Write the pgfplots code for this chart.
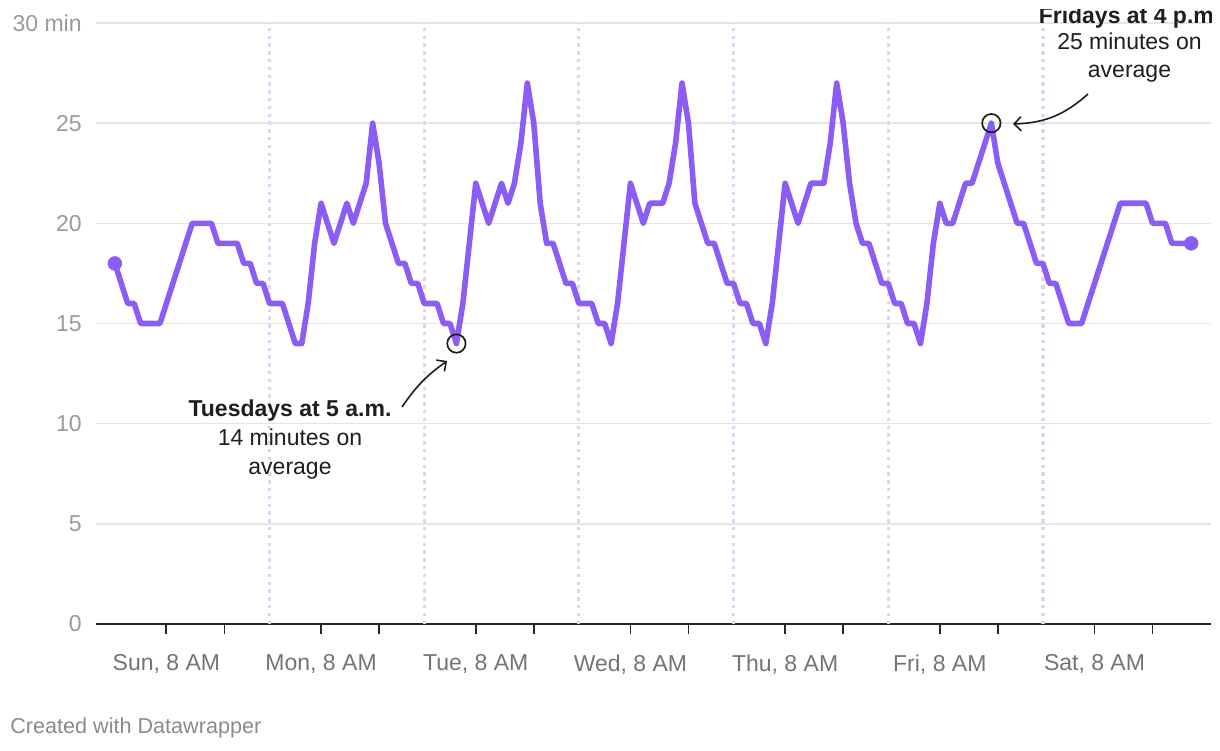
\documentclass[border=0pt]{standalone}
\usepackage{fontspec}
\setmainfont{Liberation Sans}
\usepackage{pgfplots}
\pgfplotsset{compat=1.18}
\usetikzlibrary{arrows.meta}

\definecolor{linec}{HTML}{8B5CF6}
\definecolor{gridc}{HTML}{E4E4E4}
\definecolor{dotc}{HTML}{E2D4EE}
\definecolor{ylab}{HTML}{9A9A9A}
\definecolor{xlab}{HTML}{747474}
\definecolor{txt}{HTML}{1E1E1E}
\definecolor{credit}{HTML}{8A8A8A}

\newcommand{\lbl}{\fontsize{11.5}{14.5}\selectfont}

\begin{document}
\begin{tikzpicture}
% page is 610pt x 375pt (reference pixels halved)
\path[use as bounding box] (0,0) rectangle (610pt,375pt);
\clip (0,0) rectangle (610pt,375pt);

\begin{axis}[
  at={(47.75pt,63pt)}, anchor=south west,
  scale only axis, width=557.5pt, height=300.5pt,
  xmin=-3, xmax=170, ymin=0, ymax=30,
  clip=false,
  axis x line*=bottom, axis y line*=left,
  y axis line style={draw=none},
  x axis line style={black!85, line width=0.9pt},
  ytick={0,5,10,15,20,25,30},
  yticklabels={0,5,10,15,20,25,30 min},
  ytick style={draw=none},
  yticklabel style={font=\lbl, color=ylab, anchor=east, inner sep=0pt, xshift=-1.75pt},
  ymajorgrids,
  major grid style={gridc, line width=0.8pt},
  xtick={8,17,32,41,56,65,80,89,104,113,128,137,152,161},
  xticklabels={{Sun, 8 AM},{},{Mon, 8 AM},{},{Tue, 8 AM},{},{Wed, 8 AM},{},{Thu, 8 AM},{},{Fri, 8 AM},{},{Sat, 8 AM},{}},
  tick align=outside,
  x tick style={black!85, line width=0.9pt},
  major tick length=5pt,
  xticklabel style={font=\lbl, color=xlab, anchor=north, inner sep=0pt, yshift=-10pt},
  extra x ticks={24,48,72,96,120,144},
  extra x tick labels={},
  extra x tick style={grid=major, major tick length=0pt,
    major grid style={dotc, line width=1.6pt, dash pattern=on 1.7pt off 2.2pt}},
]
% average travel time, one value per hour, Sunday 0:00 to Saturday 23:00
\addplot[linec, line width=2.8pt, line join=round, line cap=round] coordinates {
(0,18)(1,17)(2,16)(3,16)(4,15)(5,15)(6,15)(7,15)(8,16)(9,17)(10,18)(11,19)(12,20)(13,20)(14,20)(15,20)(16,19)(17,19)(18,19)(19,19)(20,18)(21,18)(22,17)(23,17)
(24,16)(25,16)(26,16)(27,15)(28,14)(29,14)(30,16)(31,19)(32,21)(33,20)(34,19)(35,20)(36,21)(37,20)(38,21)(39,22)(40,25)(41,23)(42,20)(43,19)(44,18)(45,18)(46,17)(47,17)
(48,16)(49,16)(50,16)(51,15)(52,15)(53,14)(54,16)(55,19)(56,22)(57,21)(58,20)(59,21)(60,22)(61,21)(62,22)(63,24)(64,27)(65,25)(66,21)(67,19)(68,19)(69,18)(70,17)(71,17)
(72,16)(73,16)(74,16)(75,15)(76,15)(77,14)(78,16)(79,19)(80,22)(81,21)(82,20)(83,21)(84,21)(85,21)(86,22)(87,24)(88,27)(89,25)(90,21)(91,20)(92,19)(93,19)(94,18)(95,17)
(96,17)(97,16)(98,16)(99,15)(100,15)(101,14)(102,16)(103,19)(104,22)(105,21)(106,20)(107,21)(108,22)(109,22)(110,22)(111,24)(112,27)(113,25)(114,22)(115,20)(116,19)(117,19)(118,18)(119,17)
(120,17)(121,16)(122,16)(123,15)(124,15)(125,14)(126,16)(127,19)(128,21)(129,20)(130,20)(131,21)(132,22)(133,22)(134,23)(135,24)(136,25)(137,23)(138,22)(139,21)(140,20)(141,20)(142,19)(143,18)
(144,18)(145,17)(146,17)(147,16)(148,15)(149,15)(150,15)(151,16)(152,17)(153,18)(154,19)(155,20)(156,21)(157,21)(158,21)(159,21)(160,21)(161,20)(162,20)(163,20)(164,19)(165,19)(166,19)(167,19)
};
\addplot[only marks, mark=*, mark size=3.4pt, linec] coordinates {(0,18) (167,19)};
\addplot[only marks, mark=o, mark size=4.6pt, mark options={draw=txt, line width=0.85pt, fill=none}] coordinates {(53,14) (136,25)};
\end{axis}

% annotations
\node[anchor=base, font=\lbl\bfseries, color=txt] at (145pt,166.5pt) {Tuesdays at 5 a.m.};
\node[anchor=base, font=\lbl, color=txt] at (145pt,152pt) {14 minutes on};
\node[anchor=base, font=\lbl, color=txt] at (145pt,137.5pt) {average};
\draw[txt, line width=0.8pt, -{Straight Barb[length=3.5pt,width=7pt]}] (201pt,171.5pt) to[bend left=10] (223.5pt,194.5pt);

\begin{scope}
\clip (0,0) rectangle (605.5pt,370.25pt);
\node[anchor=base, font=\lbl\bfseries, color=txt] at (564.75pt,363pt) {Fridays at 4 p.m.};
\end{scope}
\node[anchor=base, font=\lbl, color=txt] at (564.75pt,350.35pt) {25 minutes on};
\node[anchor=base, font=\lbl, color=txt] at (564.75pt,336pt) {average};
\draw[txt, line width=0.8pt, -{Straight Barb[length=3.5pt,width=7pt]}] (544pt,328pt) to[bend left=20] (506.5pt,313pt);

\node[anchor=base west, inner sep=0pt, font=\fontsize{10.8}{13}\selectfont, color=credit] at (5pt,8.5pt) {Created with Datawrapper};
\end{tikzpicture}
\end{document}
